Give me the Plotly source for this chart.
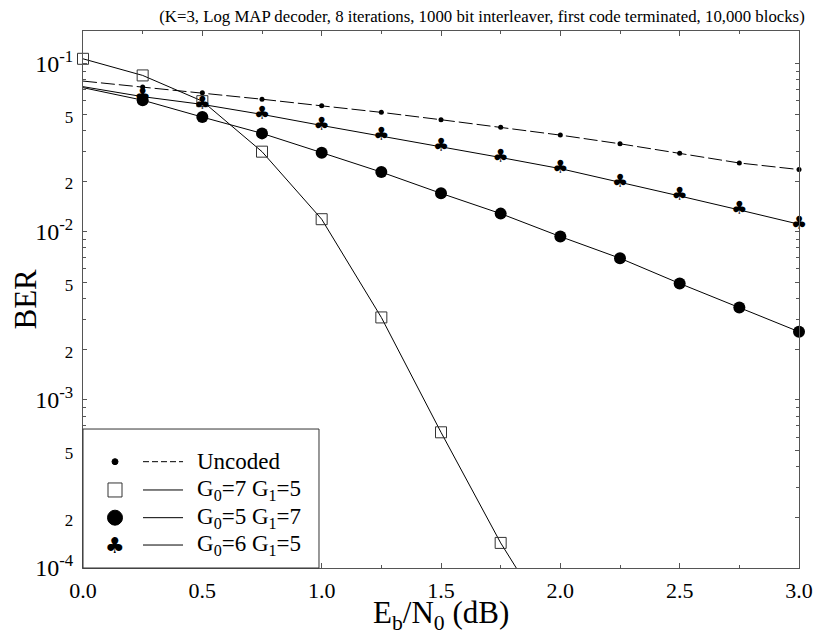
import plotly.graph_objects as go
import math

# ---------------- data ----------------
ebn0 = [0.0, 0.25, 0.5, 0.75, 1.0, 1.25, 1.5, 1.75, 2.0, 2.25, 2.5, 2.75, 3.0]
ber_uncoded = [0.0786, 0.0725, 0.0670, 0.0613, 0.0560, 0.0512, 0.0463, 0.0418,
               0.0375, 0.0333, 0.0293, 0.0256, 0.0234]
ebn0_g75 = [0.0, 0.25, 0.5, 0.75, 1.0, 1.25, 1.5, 1.75, 2.0]
ber_g75 = [0.1066, 0.0849, 0.0597, 0.0299, 0.01186, 0.00309, 0.000641, 0.000141, 0.000038]
ber_g57 = [0.0718, 0.0605, 0.0480, 0.0384, 0.0295, 0.0226, 0.0169, 0.0128,
           0.00935, 0.00695, 0.00492, 0.00354, 0.00254]
ber_g65 = [0.0728, 0.0635, 0.0571, 0.0498, 0.0428, 0.0371, 0.0320, 0.0276,
           0.0237, 0.0197, 0.0163, 0.01346, 0.01107]

series_names = ["Uncoded", "G<sub>0</sub>=7 G<sub>1</sub>=5",
                "G<sub>0</sub>=5 G<sub>1</sub>=7", "G<sub>0</sub>=6 G<sub>1</sub>=5"]
title_text = ("(K=3, Log MAP decoder, 8 iterations, 1000 bit interleaver, "
              "first code terminated, 10,000 blocks)")
x_title = "E<sub>b</sub>/N<sub>0</sub> (dB)"
y_title = "BER"
x_tick_vals = [0.0, 0.5, 1.0, 1.5, 2.0, 2.5, 3.0]
x_tick_text = ["0.0", "0.5", "1.0", "1.5", "2.0", "2.5", "3.0"]
y_decades = [-4, -3, -2, -1]
y_top = 0.156

SERIF = "Liberation Serif"
AX = "#555555"
W, H = 814, 630

# y ticks: labels at mantissa 1 (power), 2 and 5 (small); other mantissas as minor ticks
y_tick_vals, y_tick_text, y_minor_vals = [], [], []
for d in y_decades:
    for m in range(1, 10):
        v = m * 10.0 ** d
        if v > y_top:
            continue
        if m == 1:
            y_tick_vals.append(v)
            y_tick_text.append("10<sup>%d</sup>" % d)
        elif m in (2, 5):
            y_tick_vals.append(v)
            y_tick_text.append("<span style='font-size:17px'>%d</span>" % m)
        else:
            y_minor_vals.append(v)

fig = go.Figure()

# Uncoded
fig.add_trace(go.Scatter(x=ebn0, y=ber_uncoded, mode="lines",
                         line=dict(color="black", width=1, dash="14px,4px")))
fig.add_trace(go.Scatter(x=ebn0[1:], y=ber_uncoded[1:], mode="markers",
                         marker=dict(color="black", size=5), cliponaxis=False))
# G0=7 G1=5
fig.add_trace(go.Scatter(x=ebn0_g75, y=ber_g75, mode="lines",
                         line=dict(color="black", width=1), cliponaxis=True))
fig.add_trace(go.Scatter(x=ebn0_g75[:-1], y=ber_g75[:-1], mode="markers",
                         marker=dict(symbol="square-open", size=11, color="#333333",
                                     line=dict(width=1)), cliponaxis=False))
# G0=5 G1=7
fig.add_trace(go.Scatter(x=ebn0, y=ber_g57, mode="lines",
                         line=dict(color="black", width=1)))
fig.add_trace(go.Scatter(x=ebn0[1:], y=ber_g57[1:], mode="markers",
                         marker=dict(color="black", size=12), cliponaxis=False))
# G0=6 G1=5
fig.add_trace(go.Scatter(x=ebn0, y=ber_g65, mode="lines",
                         line=dict(color="black", width=1)))
fig.add_trace(go.Scatter(x=ebn0[1:], y=ber_g65[1:], mode="text",
                         text=["\u2663"] * (len(ebn0) - 1), textposition="middle center",
                         textfont=dict(family="DejaVu Sans", size=18, color="black"),
                         cliponaxis=False))

# ---------------- custom legend (marker, then line, then label) ----------------
leg_x1, leg_y1 = 0.3296, 0.2588
row_y = [0.198, 0.1453, 0.0937, 0.0428]
mk_x, ln_x0, ln_x1, tx_x = 0.0447, 0.0838, 0.1397, 0.1566
shapes = [dict(type="rect", xref="paper", yref="paper", x0=0, x1=leg_x1, y0=0, y1=leg_y1,
               line=dict(color="#333333", width=1), fillcolor="white", layer="above")]
annotations = []
for i, name in enumerate(series_names):
    shapes.append(dict(type="line", xref="paper", yref="paper", x0=ln_x0, x1=ln_x1,
                       y0=row_y[i], y1=row_y[i], layer="above",
                       line=dict(color="black", width=1, dash="6px,3px" if i == 0 else "solid")))
    annotations.append(dict(xref="paper", yref="paper", x=tx_x, y=row_y[i], text=name,
                            showarrow=False, xanchor="left", yanchor="middle",
                            font=dict(family=SERIF, size=23, color="black")))


def sym(kind, row, r, fill, line_col):
    return dict(type=kind, xref="paper", yref="paper", xsizemode="pixel", ysizemode="pixel",
                xanchor=mk_x, yanchor=row_y[row], x0=-r, x1=r, y0=-r, y1=r, layer="above",
                fillcolor=fill, line=dict(color=line_col, width=1))


shapes.append(sym("circle", 0, 3, "black", "black"))
shapes.append(sym("rect", 1, 7, "white", "#333333"))
shapes.append(sym("circle", 2, 7.5, "black", "black"))
annotations.append(dict(xref="paper", yref="paper", x=mk_x, y=row_y[3], text="\u2663",
                        showarrow=False, xanchor="center", yanchor="middle",
                        font=dict(family="DejaVu Sans", size=22, color="black")))

# axis titles placed as annotations for exact positioning
annotations.append(dict(xref="paper", yref="paper", x=0.5, y=-(615 - 568) / 537,
                        text=x_title, showarrow=False, xanchor="center", yanchor="middle",
                        font=dict(family=SERIF, size=31, color="black")))
annotations.append(dict(xref="paper", yref="paper", x=-(83 - 25) / 716, y=0.5,
                        text=y_title, showarrow=False, xanchor="center", yanchor="middle",
                        textangle=-90, font=dict(family=SERIF, size=31, color="black")))

fig.update_layout(
    width=W, height=H,
    margin=dict(l=83, r=15, t=31, b=62),
    paper_bgcolor="white", plot_bgcolor="white",
    showlegend=False,
    font=dict(family=SERIF, color="black", size=22),
    title=dict(text=title_text, x=482 / W, xref="container", xanchor="center",
               y=1 - 16 / H, yref="container", yanchor="middle",
               font=dict(family=SERIF, size=16.8, color="black")),
    shapes=shapes, annotations=annotations,
    xaxis=dict(range=[0, 3], tickvals=x_tick_vals, ticktext=x_tick_text,
               ticks="inside", ticklen=5, tickcolor=AX, showline=True, linecolor=AX,
               linewidth=1, mirror="ticks", showgrid=False, zeroline=False,
               tickfont=dict(family=SERIF, size=22), ticklabelstandoff=3,
               minor=dict(dtick=0.25, ticks="inside", ticklen=3, tickcolor=AX, showgrid=False),
               automargin=False),
    yaxis=dict(type="log", range=[-4, math.log10(y_top)], tickvals=y_tick_vals,
               ticktext=y_tick_text, ticks="inside", ticklen=4, tickcolor=AX,
               showline=True, linecolor=AX, linewidth=1, mirror="ticks",
               showgrid=False, zeroline=False, tickfont=dict(family=SERIF, size=24),
               ticklabelstandoff=4,
               minor=dict(tickmode="array", tickvals=y_minor_vals, ticks="inside",
                          ticklen=3, tickcolor=AX, showgrid=False),
               automargin=False),
)

# remove the page's default 8px body margin so the figure sits at the window origin
fig.write_html("out.html", config={"displayModeBar": False},
               post_script="document.body.style.margin='0';")
